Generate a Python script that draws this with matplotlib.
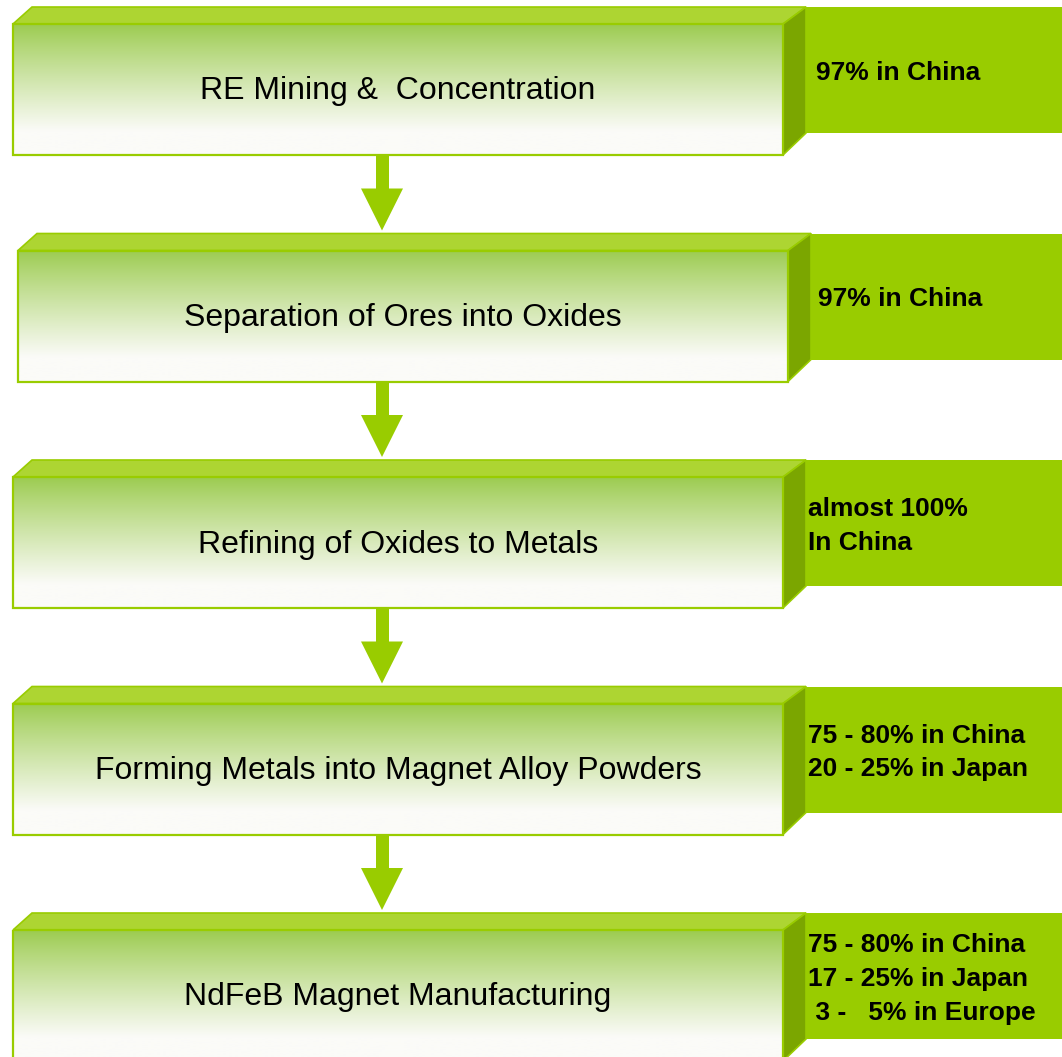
import numpy as np
import matplotlib
matplotlib.use("Agg")
import matplotlib.pyplot as plt
from matplotlib.patches import Polygon, Rectangle

plt.rcParams["font.family"] = ["Liberation Sans", "DejaVu Sans"]

steps = ["RE Mining &  Concentration",
         "Separation of Ores into Oxides",
         "Refining of Oxides to Metals",
         "Forming Metals into Magnet Alloy Powders",
         "NdFeB Magnet Manufacturing"]
shares = ["97% in China",
          "97% in China",
          "almost 100%\nIn China",
          "75 - 80% in China\n20 - 25% in Japan",
          "75 - 80% in China\n17 - 25% in Japan\n 3 -   5% in Europe"]
share_x = [816, 818, 808, 808, 808]
box_shift = [0, 5, 0, 0, 0]

# layout in pixels (y grows downwards)
W, H = 1062, 1057
top0, pitch = 7, 226.5
left, right = 13, 783
bev_dx_l, bev_dx_r, bev_dy = 19, 23, 17
front_h = 131
panel_drop = 22
arrow_x, shaft_w, head_w, head_h = 382, 13, 42, 42

green = "#99cc00"
bevel = "#add532"
side = "#7ba600"

c_top = np.array([155, 203, 78]) / 255
c_bot = np.array([251, 251, 248]) / 255
t = np.linspace(0, 1, 256)
f = np.clip(t / 0.82, 0, 1) ** 0.9
grad = (c_top[None, :] * (1 - f[:, None]) + c_bot[None, :] * f[:, None])[:, None, :]

fig = plt.figure(figsize=(W / 100, H / 100), dpi=100)
ax = fig.add_axes([0, 0, 1, 1])
ax.set_xlim(0, W)
ax.set_ylim(H, 0)
ax.axis("off")

for i, (step, share) in enumerate(zip(steps, shares)):
    y0 = top0 + i * pitch
    fy0 = y0 + bev_dy
    fy1 = fy0 + front_h
    x0 = left + box_shift[i]
    x1 = right + box_shift[i]
    sx = x1 + bev_dx_r

    # label panel behind the box
    ax.add_patch(Rectangle((sx, y0), W - sx + 5, fy1 - panel_drop - y0,
                           facecolor=green, edgecolor="none", zorder=1))
    # top bevel
    ax.add_patch(Polygon([(x0, fy0), (x0 + bev_dx_l, y0), (sx, y0), (x1, fy0)],
                         closed=True, facecolor=bevel, edgecolor=green, lw=1.2, zorder=2))
    # right side face
    ax.add_patch(Polygon([(x1, fy0), (sx, y0), (sx, fy1 - panel_drop), (x1, fy1)],
                         closed=True, facecolor=side, edgecolor=green, lw=1.2, zorder=2))
    # front face with vertical gradient
    front = Rectangle((x0, fy0), x1 - x0, front_h, facecolor="none",
                      edgecolor=green, lw=1.6, zorder=4)
    ax.add_patch(front)
    im = ax.imshow(grad, extent=(x0, x1, fy1, fy0), origin="upper",
                   aspect="auto", interpolation="bilinear", zorder=3)
    im.set_clip_path(front)

    ax.text((x0 + x1) / 2, (fy0 + fy1) / 2 + 2, step, fontsize=23,
            ha="center", va="center", color="black", zorder=5)
    ax.text(share_x[i], (y0 + fy1 - panel_drop) / 2 + 3, share, fontsize=19,
            fontweight="bold", ha="left", va="center", linespacing=1.52,
            color="black", zorder=5)

    # arrow down to the next step
    if i < len(steps) - 1:
        ny0 = top0 + (i + 1) * pitch
        hy = ny0 - 3 - head_h
        ax.add_patch(Rectangle((arrow_x - shaft_w / 2, fy1 + 1), shaft_w, hy - fy1 - 1,
                               facecolor=green, edgecolor="none", zorder=2))
        ax.add_patch(Polygon([(arrow_x - head_w / 2, hy), (arrow_x + head_w / 2, hy),
                              (arrow_x, ny0 - 3)], closed=True,
                             facecolor=green, edgecolor="none", zorder=2))

fig.savefig("out.png", dpi=100)
